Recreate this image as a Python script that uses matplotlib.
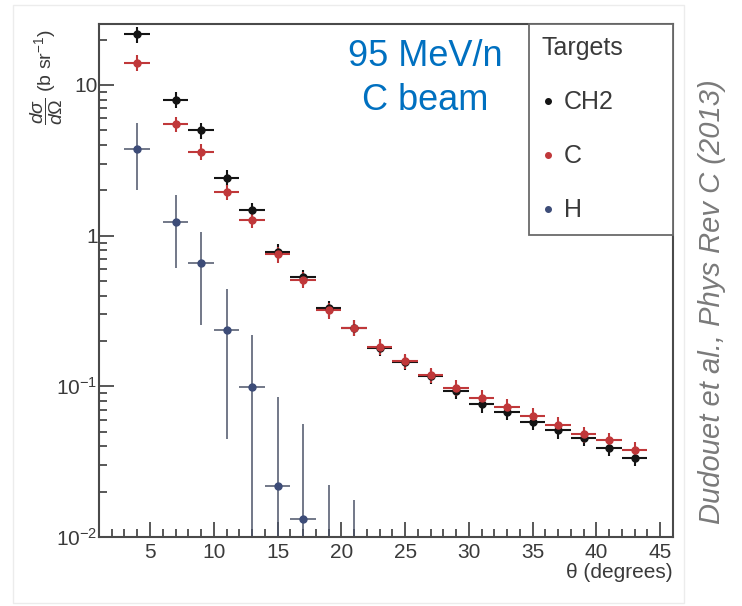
import matplotlib
matplotlib.use("Agg")
import matplotlib.pyplot as plt
from matplotlib.lines import Line2D
from matplotlib.patches import Rectangle
from matplotlib.ticker import FixedLocator, LogLocator, MultipleLocator, NullFormatter

# angular bins (degrees), each bin is 2 degrees wide
theta = [4, 7, 9, 11, 13, 15, 17, 19, 21, 23, 25, 27, 29, 31, 33, 35, 37, 39, 41, 43]
theta_half = 1.0

# dsigma/dOmega (b/sr) for the CH2 and C targets
ch2_xs = [21.7, 8.0, 5.0, 2.43, 1.47, 0.78, 0.53, 0.33, 0.245, 0.18, 0.145, 0.117,
          0.093, 0.076, 0.068, 0.058, 0.051, 0.0455, 0.039, 0.0335]
c_xs = [14.1, 5.5, 3.6, 1.95, 1.28, 0.75, 0.51, 0.32, 0.245, 0.183, 0.147, 0.119,
        0.098, 0.084, 0.073, 0.064, 0.0555, 0.048, 0.044, 0.038]
rel_err = 0.12

# H target (CH2 - C), large errors
h_theta = [4, 7, 9, 11, 13, 15, 17, 19, 21]
h_xs = [3.78, 1.24, 0.66, 0.237, 0.099, 0.0218, 0.0132, 0.004, 0.003]
h_low = [2.0, 0.61, 0.257, 0.0448, 1e-4, 1e-4, 1e-4, 1e-4, 1e-4]
h_high = [5.6, 1.86, 1.06, 0.44, 0.22, 0.085, 0.056, 0.0221, 0.0176]

x_ticks = [5, 10, 15, 20, 25, 30, 35, 40, 45]
y_ticks = [0.01, 0.1, 1, 10]
y_ticklabels = [r"10$^{-2}$", r"10$^{-1}$", "1", "10"]

COL_CH2 = "#141414"
COL_C = "#c0383a"
COL_H = "#3d4c78"
AXIS_COL = "#4a4a4a"
TXT_COL = "#3a3a3a"

plt.rcParams["font.family"] = ["Liberation Sans", "DejaVu Sans"]
plt.rcParams["mathtext.fontset"] = "custom"
plt.rcParams["mathtext.rm"] = "Liberation Sans"
plt.rcParams["mathtext.it"] = "Liberation Sans:italic"
plt.rcParams["mathtext.bf"] = "Liberation Sans:bold"


def main():
    fig = plt.figure(figsize=(7.42, 6.06), dpi=100)
    fig.patches.append(Rectangle((0.0175, 0.005), 0.904, 0.987, transform=fig.transFigure,
                                 fill=False, edgecolor="#ececec", lw=1.0))
    ax = fig.add_axes([0.1334, 0.1139, 0.7736, 0.8465])

    h_err = [[y - lo for y, lo in zip(h_xs, h_low)], [hi - y for y, hi in zip(h_xs, h_high)]]
    ax.errorbar(h_theta, h_xs, xerr=theta_half, yerr=h_err, fmt="o", ms=5,
                color=COL_H, ecolor="#4b5368", elinewidth=1.1, capsize=0)
    ax.errorbar(theta, ch2_xs, xerr=theta_half, yerr=[v * rel_err for v in ch2_xs], fmt="o",
                ms=5, color=COL_CH2, ecolor=COL_CH2, elinewidth=1.5, capsize=0)
    ax.errorbar(theta, c_xs, xerr=theta_half, yerr=[v * rel_err for v in c_xs], fmt="o",
                ms=5, color=COL_C, ecolor=COL_C, elinewidth=1.5, capsize=0)

    ax.set_yscale("log")
    ax.set_xlim(1, 46)
    ax.set_ylim(0.01, 25.4)

    for s in ax.spines.values():
        s.set_color(AXIS_COL)
        s.set_linewidth(1.5)

    ax.xaxis.set_major_locator(FixedLocator(x_ticks))
    ax.xaxis.set_minor_locator(MultipleLocator(1))
    ax.yaxis.set_major_locator(FixedLocator(y_ticks))
    ax.set_yticklabels(y_ticklabels)
    ax.yaxis.set_minor_locator(LogLocator(base=10, subs=range(2, 10)))
    ax.yaxis.set_minor_formatter(NullFormatter())
    ax.tick_params(which="both", direction="in", top=False, right=False,
                   color=AXIS_COL, width=1.3, labelcolor=TXT_COL, labelsize=15)
    ax.tick_params(which="major", length=11)
    ax.tick_params(which="minor", length=5.5)
    ax.tick_params(axis="x", pad=4)
    ax.tick_params(axis="y", pad=1)

    ax.set_ylabel(r"$\dfrac{d\sigma}{d\Omega}$ (b sr$^{-1}$)", loc="top", fontsize=14,
                  color=TXT_COL, va="center")
    ax.yaxis.set_label_coords(-0.09, 0.99)
    ax.set_xlabel("\u03b8 (degrees)", loc="right", fontsize=15, color=TXT_COL, va="center")
    ax.xaxis.set_label_coords(1.0, -0.07)

    handles = [Line2D([], [], ls="none", marker="o", ms=4, color=c) for c in (COL_CH2, COL_C, COL_H)]
    leg = ax.legend(handles, ["CH2", "C", "H"], title="Targets", alignment="left",
                    loc="upper left", bbox_to_anchor=(0.749, 0.587, 0.251, 0.413),
                    mode="expand", borderaxespad=0, fancybox=False, framealpha=1,
                    fontsize=18, title_fontsize=18, handlelength=0.5, handletextpad=0.4,
                    labelspacing=1.2, borderpad=0.5, labelcolor=TXT_COL)
    leg.get_frame().set_edgecolor("#6a6a6a")
    leg.get_frame().set_linewidth(1.3)
    leg.get_title().set_color(TXT_COL)

    fig.text(425 / 742, 1 - 56 / 606, "95 MeV/n", fontsize=26, color="#0070c0",
             family="Liberation Sans", ha="center", va="center")
    fig.text(425 / 742, 1 - 100 / 606, "C beam", fontsize=26, color="#0070c0",
             family="Liberation Sans", ha="center", va="center")

    fig.text(712 / 742, 1 - 302 / 606, "Dudouet et al., Phys Rev C (2013)", rotation=90,
             fontsize=21, style="italic", color="#7a7a7a", family="Liberation Sans",
             ha="center", va="center")

    fig.savefig("out.png", dpi=100)


if __name__ == "__main__":
    main()
